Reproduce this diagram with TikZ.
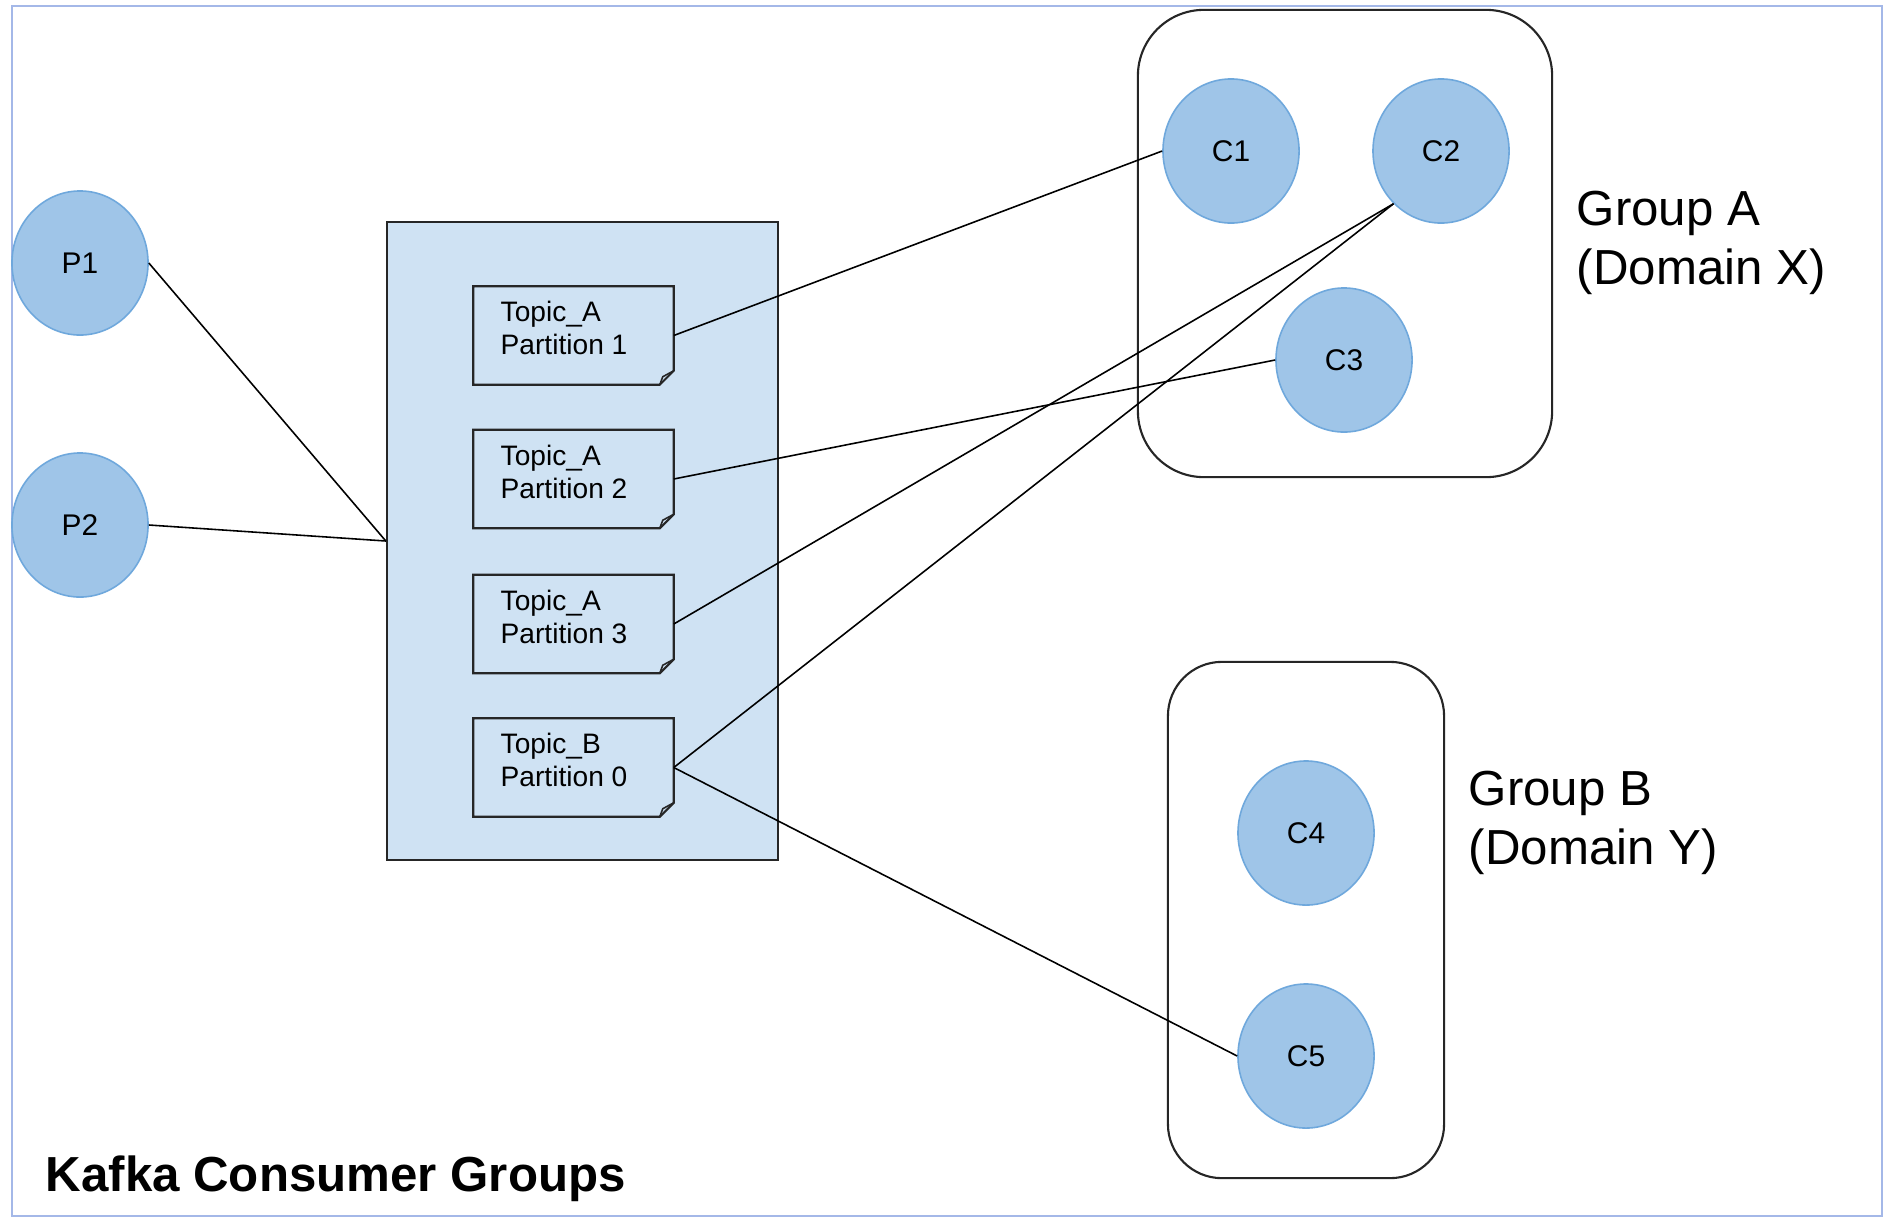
\documentclass[tikz,border=0pt]{standalone}
\usepackage{fontspec}
\setmainfont{Liberation Sans}
\usetikzlibrary{shapes.geometric}
\definecolor{circfill}{HTML}{9FC5E8}
\definecolor{circline}{HTML}{6FA8DC}
\definecolor{panelfill}{HTML}{CFE2F3}
\definecolor{framecol}{HTML}{A4B8E8}
\tikzset{
  circ/.style={ellipse, draw=circline, fill=circfill, line width=0.45pt,
    minimum width=1.36cm, minimum height=1.44cm, inner sep=0pt,
    font=\fontsize{8.5}{10}\selectfont},
  link/.style={draw=black, line width=0.45pt},
  grp/.style={draw=black!85, line width=0.6pt, rectangle},
  topicbox/.style={rectangle, minimum width=1.99cm, minimum height=0.97cm, inner sep=0pt},
  topictext/.style={anchor=west, align=left, inner sep=0pt, font=\fontsize{8}{9.6}\selectfont},
  grptext/.style={anchor=base west, align=left, inner sep=0pt, font=\fontsize{14}{16.5}\selectfont},
  notebd/.style={draw=black!85, line width=0.6pt, fill=panelfill}
}
\newcommand{\notebox}[1]{%
  \draw[notebd] (#1.north west) -- (#1.north east) -- ([yshift=0.14cm]#1.south east)
    -- ([xshift=-0.14cm]#1.south east) -- (#1.south west) -- cycle;
  \draw[draw=black!85, line width=0.45pt] ([xshift=-0.14cm]#1.south east)
    -- ([xshift=-0.11cm,yshift=0.08cm]#1.south east) -- ([yshift=0.14cm]#1.south east);
}
\begin{document}
\begin{tikzpicture}[x=0.01cm,y=-0.01cm]
\useasboundingbox (0,0) rectangle (1892,1224);
\fill[white] (0,0) rectangle (1892,1224);
\draw[framecol, line width=0.7pt] (12,6) rectangle (1882,1216);

% panel
\node[rectangle, draw=black!85, fill=panelfill, line width=0.6pt,
  minimum width=3.91cm, minimum height=6.38cm, inner sep=0pt] (panel) at (582.5,541) {};

% topic boxes
\node[topicbox] (t1) at (573.5,335.5) {};
\node[topicbox] (t2) at (573.5,479) {};
\node[topicbox] (t3) at (573.5,624) {};
\node[topicbox] (t4) at (573.5,767.5) {};
\notebox{t1}\notebox{t2}\notebox{t3}\notebox{t4}
\node[topictext] (t1l) at (500,328) {Topic\_A\\Partition 1};
\node[topictext] (t2l) at (500,472) {Topic\_A\\Partition 2};
\node[topictext] (t3l) at (500,617) {Topic\_A\\Partition 3};
\node[topictext] (t4l) at (500,760) {Topic\_B\\Partition 0};

% groups
\node[grp, rounded corners=0.66cm, minimum width=4.14cm, minimum height=4.67cm] (ga) at (1345,243.5) {};
\node[grp, rounded corners=0.54cm, minimum width=2.76cm, minimum height=5.16cm] (gb) at (1306,920) {};

% producers and consumers
\node[circ] (p1) at (80,263) {P1};
\node[circ] (p2) at (80,525) {P2};
\node[circ] (c1) at (1231,151) {C1};
\node[circ] (c2) at (1441,151) {C2};
\node[circ] (c3) at (1344,360) {C3};
\node[circ] (c4) at (1306,833) {C4};
\node[circ] (c5) at (1306,1056) {C5};

% labels
\node[grptext] (gal) at (1576,284) {Group A\\(Domain X)};
\node[grptext] (gbl) at (1468,864) {Group B\\(Domain Y)};
\node[anchor=base west, inner sep=0pt, font=\fontsize{14}{16}\selectfont\bfseries] (title) at (45,1191) {Kafka Consumer Groups};

% connectors
\draw[link] (p1.east) -- (panel.west);
\draw[link] (p2.east) -- (panel.west);
\draw[link] (t1.east) -- (c1.west);
\draw[link] (t2.east) -- (c3.west);
\draw[link] (t3.east) -- (c2.228);
\draw[link] (t4.east) -- (c2.228);
\draw[link] (t4.east) -- (c5.west);
\end{tikzpicture}
\end{document}
